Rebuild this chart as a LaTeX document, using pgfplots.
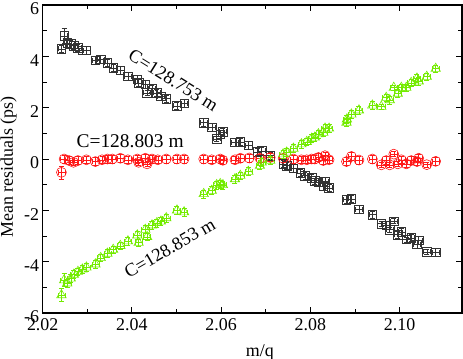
\documentclass[border=0pt]{standalone}
\usepackage{pgfplots}
\pgfplotsset{compat=1.18}
\usepackage{pgfplotstable}
\usepackage{fontspec}
\setmainfont{Liberation Serif}

\definecolor{sqblack}{rgb}{0.2,0.2,0.2}
\definecolor{circred}{rgb}{1,0.1,0.1}
\definecolor{trigreen}{rgb}{0.45,0.92,0.0}

% x  y  ey
\pgfplotstableread{
x y ey
2.0242 4.29 0.15
2.0248 4.80 0.30
2.0255 4.52 0.15
2.0263 4.48 0.15
2.0270 4.42 0.15
2.0279 4.33 0.15
2.0289 4.24 0.15
2.0298 4.24 0.15
2.0318 3.85 0.15
2.0330 3.88 0.15
2.0345 3.75 0.15
2.0358 3.55 0.15
2.0374 3.45 0.15
2.0391 3.23 0.15
2.0412 3.10 0.15
2.0415 2.97 0.15
2.0430 2.91 0.15
2.0434 2.58 0.10
2.0445 2.74 0.15
2.0456 2.58 0.15
2.0465 2.45 0.15
2.0477 2.35 0.15
2.0501 2.07 0.15
2.0517 2.17 0.15
2.0561 1.42 0.15
2.0579 1.23 0.15
2.0590 0.78 0.10
2.0598 0.97 0.15
2.0604 1.06 0.15
2.0631 0.65 0.15
2.0643 0.67 0.15
2.0661 0.54 0.15
2.0681 0.28 0.15
2.0691 0.32 0.15
2.0710 0.13 0.15
2.0739 -0.19 0.15
2.0747 -0.26 0.15
2.0762 -0.36 0.15
2.0777 -0.54 0.15
2.0788 -0.65 0.15
2.0803 -0.74 0.15
2.0810 -0.84 0.15
2.0818 -0.90 0.15
2.0829 -1.06 0.15
2.0833 -0.88 0.15
2.0842 -1.12 0.15
2.0881 -1.58 0.15
2.0892 -1.55 0.15
2.0909 -1.96 0.15
2.0939 -2.17 0.15
2.0959 -2.52 0.10
2.0970 -2.58 0.15
2.0978 -2.75 0.10
2.0987 -2.42 0.10
2.0996 -2.95 0.15
2.1004 -2.84 0.15
2.1015 -3.13 0.10
2.1026 -3.07 0.15
2.1039 -3.33 0.15
2.1043 -3.17 0.15
2.1061 -3.62 0.10
2.1081 -3.64 0.15
}\blacksq

\pgfplotstableread{
x y ey
2.0242 -0.52 0.25
2.0248 0.00 0.15
2.0259 -0.06 0.15
2.0269 -0.13 0.10
2.0279 -0.06 0.15
2.0298 -0.03 0.15
2.0318 -0.10 0.15
2.0333 -0.03 0.15
2.0345 0.00 0.15
2.0356 0.00 0.15
2.0374 0.03 0.15
2.0391 -0.03 0.15
2.0412 0.00 0.15
2.0415 -0.13 0.10
2.0430 0.03 0.15
2.0434 -0.19 0.10
2.0445 0.00 0.15
2.0458 -0.03 0.15
2.0477 0.00 0.15
2.0501 0.00 0.15
2.0517 0.00 0.15
2.0561 0.00 0.15
2.0579 -0.03 0.15
2.0598 0.00 0.15
2.0604 -0.05 0.15
2.0631 -0.03 0.15
2.0643 0.03 0.15
2.0663 0.04 0.15
2.0687 0.03 0.15
2.0710 0.06 0.15
2.0739 0.03 0.15
2.0762 0.00 0.15
2.0780 -0.03 0.15
2.0792 -0.03 0.15
2.0803 0.00 0.15
2.0810 0.00 0.15
2.0818 0.06 0.15
2.0829 -0.06 0.15
2.0833 0.13 0.15
2.0842 -0.03 0.15
2.0881 -0.10 0.15
2.0892 0.10 0.15
2.0909 -0.04 0.15
2.0939 0.00 0.15
2.0959 -0.23 0.10
2.0970 -0.06 0.15
2.0978 -0.23 0.10
2.0987 0.19 0.10
2.0996 -0.19 0.10
2.1004 -0.03 0.15
2.1015 -0.19 0.15
2.1026 -0.06 0.15
2.1039 -0.10 0.15
2.1043 0.03 0.15
2.1061 -0.22 0.10
2.1081 -0.09 0.15
}\redcirc

\pgfplotstableread{
x y ey
2.0242 -5.30 0.25
2.0248 -4.72 0.25
2.0255 -4.84 0.15
2.0263 -4.65 0.15
2.0270 -4.50 0.15
2.0279 -4.39 0.15
2.0289 -4.30 0.15
2.0298 -4.22 0.15
2.0318 -4.10 0.15
2.0330 -3.85 0.15
2.0345 -3.68 0.15
2.0358 -3.53 0.15
2.0374 -3.38 0.15
2.0391 -3.20 0.15
2.0412 -2.97 0.15
2.0415 -3.26 0.15
2.0430 -2.75 0.15
2.0434 -3.03 0.15
2.0445 -2.58 0.15
2.0456 -2.49 0.15
2.0465 -2.43 0.15
2.0477 -2.30 0.15
2.0501 -2.00 0.15
2.0517 -2.07 0.15
2.0561 -1.36 0.15
2.0579 -1.23 0.15
2.0590 -1.01 0.15
2.0598 -0.97 0.15
2.0604 -1.01 0.15
2.0631 -0.78 0.15
2.0643 -0.65 0.15
2.0661 -0.49 0.15
2.0687 -0.26 0.15
2.0691 -0.13 0.15
2.0710 -0.06 0.15
2.0739 0.19 0.15
2.0747 0.26 0.15
2.0762 0.41 0.15
2.0780 0.58 0.15
2.0792 0.67 0.15
2.0803 0.80 0.15
2.0810 0.84 0.15
2.0818 0.97 0.15
2.0829 1.03 0.15
2.0833 1.19 0.15
2.0842 1.19 0.15
2.0881 1.42 0.15
2.0882 1.55 0.15
2.0892 1.74 0.15
2.0909 1.90 0.15
2.0939 2.09 0.15
2.0959 2.04 0.10
2.0970 2.39 0.15
2.0978 2.30 0.15
2.0987 2.78 0.10
2.0996 2.55 0.15
2.1004 2.78 0.15
2.1015 2.78 0.15
2.1026 2.97 0.15
2.1039 3.14 0.15
2.1043 3.03 0.15
2.1061 3.21 0.15
2.1081 3.52 0.15
}\greentri

\begin{document}
\begin{tikzpicture}
\begin{axis}[
    name=ax,
    scale only axis,
    width=419.3bp, height=308bp,
    xmin=2.02, xmax=2.114,
    ymin=-6, ymax=6,
    xtick={2.02,2.04,2.06,2.08,2.10},
    xticklabels={2.02,2.04,2.06,2.08,2.10},
    ytick={-6,-4,...,6},
    yticklabels={-6,-4,-2,0,2,4,6},
    minor x tick num=1,
    minor y tick num=1,
    tick align=inside,
    major tick length=6bp,
    minor tick length=4bp,
    tick style={black, line width=0.9pt},
    axis line style={line width=1.1pt},
    xlabel={m/q},
    ylabel={Mean residuals (ps)},
    label style={font=\fontsize{18}{20}\selectfont},
    tick label style={font=\fontsize{18}{20}\selectfont},
    xticklabel style={yshift=-2bp},
    yticklabel style={yshift=-4bp},
    /pgf/number format/assume math mode=true,
    xlabel style={at={(axis description cs:0.518,0)}, anchor=base, yshift=-43bp},
    ylabel style={at={(axis description cs:-0.1015,0.474)}, anchor=north, inner sep=0pt},
    every axis plot/.append style={only marks, line width=0.6pt},
    error bars/y dir=both,
    error bars/y explicit,
    error bars/x dir=both,
    error bars/x fixed=0.0008,
    error bars/error bar style={line width=0.5pt},
    error bars/error mark options={rotate=90, mark size=2.5pt, line width=0.5pt},
]
\addplot[sqblack, mark=square, mark size=4.3pt] table[x=x, y=y, y error=ey] {\blacksq};
\addplot[circred, mark=o, mark size=5pt] table[x=x, y=y, y error=ey] {\redcirc};
\addplot[trigreen, mark=triangle, mark size=5.5pt] table[x=x, y=y, y error=ey] {\greentri};

\node[rotate=-32, font=\fontsize{18.5}{21}\selectfont] at (axis cs:2.0493,3.06) {C=128.753 m};
\node[font=\fontsize{19.5}{22}\selectfont] at (axis cs:2.0396,0.68) {C=128.803 m};
\node[rotate=30, font=\fontsize{18.5}{21}\selectfont] at (axis cs:2.0485,-3.47) {C=128.853 m};
\end{axis}
\pgfresetboundingbox
\path[use as bounding box] ([xshift=-42.7bp,yshift=-45bp]ax.south west) rectangle ([xshift=1bp,yshift=5bp]ax.north east);
\end{tikzpicture}
\end{document}
